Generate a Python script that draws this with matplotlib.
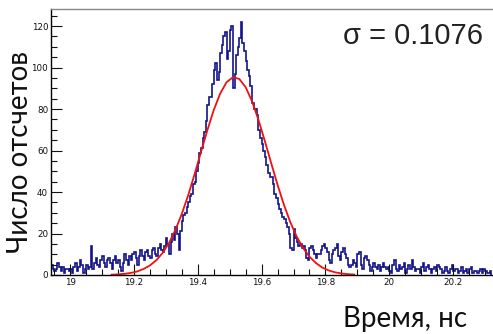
import matplotlib
matplotlib.use("Agg")
import matplotlib.pyplot as plt
from matplotlib.ticker import MultipleLocator
import numpy as np

# histogram: first bin edge, bin width, counts per bin
bin_lo = 18.94
bin_width = 0.005
counts = [
    5, 3, 2, 3, 6, 4, 2, 4, 1, 3, 3, 2,                      # 18.94 - 18.995
    3, 1, 4, 6, 2, 4, 7, 5, 1, 3, 5, 3, 4, 14, 3, 6, 8, 5, 4, 7,   # 19.00 - 19.095
    9, 6, 4, 7, 8, 6, 3, 7, 9, 6, 7, 4, 2, 6, 10, 7, 5, 9, 7, 10,  # 19.10 - 19.195
    11, 8, 5, 9, 12, 9, 7, 11, 12, 9, 8, 12, 13, 10, 9, 13, 15, 12, 11, 14,  # 19.20
    18, 15, 10, 16, 20, 17, 23, 20, 12, 21, 26, 29, 30, 33, 35, 38, 39, 44, 45, 50,  # 19.30
    54, 59, 61, 66, 69, 74, 82, 86, 86, 92, 99, 102, 94, 98, 107, 111, 115, 117, 104, 108,  # 19.40
    118, 120, 90, 97, 106, 110, 114, 122, 112, 108, 103, 99, 96, 91, 83, 80, 80, 77, 70, 66,  # 19.50
    63, 60, 57, 53, 49, 47, 47, 44, 39, 37, 34, 32, 30, 28, 27, 25, 23, 20, 13, 12,  # 19.60
    22, 18, 16, 14, 15, 13, 14, 12, 8, 7, 13, 14, 12, 10, 8, 10, 10, 12, 14, 15,  # 19.70
    13, 11, 7, 6, 10, 12, 13, 15, 9, 7, 11, 13, 10, 8, 5, 4, 5, 7, 6, 4,  # 19.80
    10, 11, 5, 3, 8, 9, 7, 5, 2, 4, 6, 4, 3, 5, 2, 4, 6, 4, 3, 4,  # 19.90
    2, 1, 5, 7, 3, 2, 5, 3, 4, 6, 1, 3, 5, 3, 7, 4, 2, 3, 3, 1,  # 20.00
    4, 6, 2, 4, 5, 3, 1, 3, 4, 2, 5, 4, 3, 1, 2, 4, 2, 1, 3, 5,  # 20.10
    2, 3, 3, 1, 2, 4, 1, 2, 3, 1, 3, 4, 1, 2, 2, 1, 2, 3, 1, 3,  # 20.20
    2, 1, 1, 2,                                              # 20.30
]

# gaussian fit curve
fit_x = [19.13, 19.15, 19.17, 19.19, 19.21, 19.23, 19.25, 19.27, 19.29, 19.31,
         19.33, 19.35, 19.37, 19.39, 19.41, 19.43, 19.45, 19.47, 19.49, 19.51,
         19.53, 19.55, 19.57, 19.59, 19.61, 19.63, 19.65, 19.67, 19.69, 19.71,
         19.73, 19.75, 19.77, 19.79, 19.81, 19.83, 19.85, 19.87, 19.89]
fit_y = [0.16, 0.30, 0.56, 1.0, 1.7, 2.9, 4.6, 7.1, 10.7, 15.5,
         21.8, 29.5, 38.5, 48.6, 59.3, 69.8, 79.5, 87.4, 92.9, 95.3,
         94.5, 90.5, 83.7, 74.8, 64.6, 53.9, 43.4, 33.8, 25.4, 18.5,
         13.0, 8.8, 5.8, 3.6, 2.2, 1.3, 0.75, 0.41, 0.22]

sigma_text = "σ = 0.1076"
xlabel = "Время, нс"
ylabel = "Число отсчетов"

edges = bin_lo + bin_width * np.arange(len(counts) + 1)

fig = plt.figure(figsize=(4.93, 3.34), dpi=100)
ax = fig.add_axes([51 / 493, 59 / 334, 442 / 493, 266 / 334])

ax.stairs(counts, edges, color="#14148c", linewidth=1.2)
ax.plot(fit_x, fit_y, color="#ee1111", linewidth=1.3)

ax.set_xlim(18.94, 20.325)
ax.set_ylim(0, 128.2)

ax.xaxis.set_major_locator(MultipleLocator(0.2))
ax.xaxis.set_minor_locator(MultipleLocator(0.05))
ax.yaxis.set_major_locator(MultipleLocator(20))
ax.yaxis.set_minor_locator(MultipleLocator(5))
ax.xaxis.set_major_formatter(plt.FuncFormatter(lambda v, p: f"{v:g}"))

ax.tick_params(which="both", direction="in", labelsize=6.3, colors="#111111",
               top=False, right=False)
ax.tick_params(which="major", length=8, width=0.8, pad=2)
ax.tick_params(which="minor", length=4, width=0.8)

for s in ["left", "bottom"]:
    ax.spines[s].set_linewidth(1.0)
ax.spines["right"].set_visible(False)
ax.spines["top"].set_color("#888888")
ax.spines["top"].set_linewidth(1.0)

fig.text(20 / 493, 1 - 152 / 334, ylabel, rotation=90, ha="center", va="center",
         fontsize=20, family="Lato", color="#111111")
fig.text(405 / 493, 1 - 319 / 334, xlabel, ha="center", va="center",
         fontsize=20, family="Lato", color="#111111")
fig.text(413 / 493, 1 - 36 / 334, sigma_text, ha="center", va="center",
         fontsize=21, family="Liberation Sans", color="#222222")

fig.savefig("out.png", dpi=100)
